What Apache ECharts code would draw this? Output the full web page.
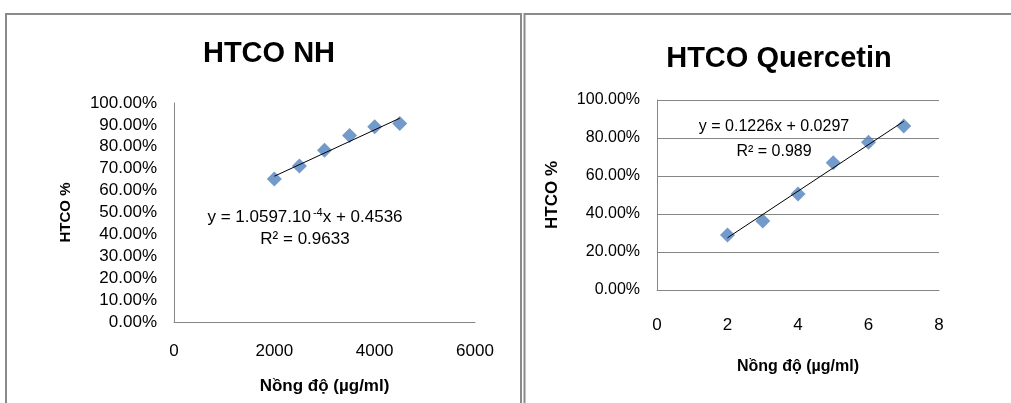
<!DOCTYPE html>
<html><head><meta charset="utf-8">
<script src="https://cdn.jsdelivr.net/npm/echarts@6/dist/echarts.min.js"></script>
<style>html,body{margin:0;padding:0;background:#fff}#c{width:1011px;height:403px}</style>
</head><body><div id="c"></div>
<script>
// Data
const nhX = [2000, 2500, 3000, 3500, 4000, 4500];
const nhY = [0.653, 0.712, 0.784, 0.852, 0.892, 0.906];
const nhTrend = { slope: 1.0597e-4, intercept: 0.4536, r2: '0.9633' };
const qX = [2, 3, 4, 5, 6, 7];
const qY = [0.289, 0.363, 0.505, 0.670, 0.777, 0.863];
const qTrend = { slope: 0.1226, intercept: 0.0297, r2: '0.989' };
const titles = ['HTCO NH', 'HTCO Quercetin'];
const xName = 'Nồng độ (µg/ml)';
const yName = 'HTCO %';

const FONT = 'Liberation Sans, Arial, sans-serif';
const AX = '#868686';
const MARK = '#4F81BD';
const pct = v => (v * 100).toFixed(2) + '%';
const plain = v => String(v);
const trendPts = (xs, t) => [xs[0], xs[xs.length - 1]].map(x => [x, t.slope * x + t.intercept]);

const chart = echarts.init(document.getElementById('c'), null, { renderer: 'canvas' });
chart.setOption({
  backgroundColor: '#fff',
  animation: false,
  textStyle: { fontFamily: FONT },
  title: [
    { text: titles[0], left: 264, top: 34, textAlign: 'center',
      textStyle: { fontFamily: FONT, fontSize: 29, fontWeight: 'bold', color: '#000' } },
    { text: titles[1], left: 774, top: 39, textAlign: 'center',
      textStyle: { fontFamily: FONT, fontSize: 29, fontWeight: 'bold', color: '#000' } }
  ],
  grid: [
    { left: 174, top: 103, width: 301, height: 219 },
    { left: 657, top: 100, width: 282, height: 190 }
  ],
  xAxis: [
    { gridIndex: 0, type: 'value', min: 0, max: 6000, interval: 2000,
      axisLine: { show: true, onZero: false, lineStyle: { color: AX, width: 1 } },
      axisTick: { show: false }, splitLine: { show: false },
      axisLabel: { fontSize: 17, color: '#000', margin: 21, fontFamily: FONT, formatter: plain },
      name: xName, nameLocation: 'middle', nameGap: 56,
      nameTextStyle: { fontSize: 17, fontWeight: 'bold', color: '#000', fontFamily: FONT } },
    { gridIndex: 1, type: 'value', min: 0, max: 8, interval: 2,
      axisLine: { show: true, onZero: false, lineStyle: { color: AX, width: 1 } },
      axisTick: { show: false }, splitLine: { show: false },
      axisLabel: { fontSize: 17, color: '#000', margin: 27, fontFamily: FONT, formatter: plain },
      name: xName, nameLocation: 'middle', nameGap: 69,
      nameTextStyle: { fontSize: 16, fontWeight: 'bold', color: '#000', fontFamily: FONT } }
  ],
  yAxis: [
    { gridIndex: 0, type: 'value', min: 0, max: 1, interval: 0.1,
      axisLine: { show: true, onZero: false, lineStyle: { color: AX, width: 1 } },
      axisTick: { show: false }, splitLine: { show: false },
      axisLabel: { fontSize: 17, color: '#000', margin: 17, formatter: pct, fontFamily: FONT },
      name: yName, nameLocation: 'middle', nameGap: 101, nameRotate: 90,
      nameTextStyle: { fontSize: 15, fontWeight: 'bold', color: '#000', fontFamily: FONT } },
    { gridIndex: 1, type: 'value', min: 0, max: 1, interval: 0.2,
      axisLine: { show: true, onZero: false, lineStyle: { color: AX, width: 1 } },
      axisTick: { show: false },
      splitLine: { show: true, lineStyle: { color: AX, width: 1 } },
      axisLabel: { fontSize: 16, color: '#000', margin: 17, formatter: pct, fontFamily: FONT },
      name: yName, nameLocation: 'middle', nameGap: 96, nameRotate: 90,
      nameTextStyle: { fontSize: 17, fontWeight: 'bold', color: '#000', fontFamily: FONT } }
  ],
  series: [
    { type: 'scatter', xAxisIndex: 0, yAxisIndex: 0, symbol: 'diamond', symbolSize: [15, 15],
      itemStyle: { color: MARK }, data: nhX.map((x, i) => [x, nhY[i]]), z: 2 },
    { type: 'line', xAxisIndex: 0, yAxisIndex: 0, symbol: 'none', silent: true,
      lineStyle: { color: '#000', width: 1 }, data: trendPts(nhX, nhTrend), z: 3 },
    { type: 'scatter', xAxisIndex: 1, yAxisIndex: 1, symbol: 'diamond', symbolSize: [15, 15],
      itemStyle: { color: MARK }, data: qX.map((x, i) => [x, qY[i]]), z: 2 },
    { type: 'line', xAxisIndex: 1, yAxisIndex: 1, symbol: 'none', silent: true,
      lineStyle: { color: '#000', width: 1 }, data: trendPts(qX, qTrend), z: 3 }
  ],
  graphic: [
    // panel frames
    { type: 'polyline', shape: { points: [[6, 403], [6, 14], [521, 14], [521, 403]] },
      style: { stroke: '#8a8a8a', lineWidth: 2, fill: null }, silent: true },
    { type: 'polyline', shape: { points: [[524.5, 403], [524.5, 14], [1011, 14]] },
      style: { stroke: '#8a8a8a', lineWidth: 2, fill: null }, silent: true },
    // equations
    { type: 'text', x: 305, y: 217, style: {
        text: 'y = 1.0597.10{sup|-4}x + 0.4536', font: '17px ' + FONT, fill: '#000',
        align: 'center', verticalAlign: 'middle',
        rich: { sup: { fontSize: 11, fontFamily: FONT, padding: [0, 0, 9, 2], fill: '#000' } } }, z: 10 },
    { type: 'text', x: 305, y: 239, style: {
        text: 'R² = ' + nhTrend.r2, font: '17px ' + FONT, fill: '#000',
        align: 'center', verticalAlign: 'middle' }, z: 10 },
    { type: 'text', x: 774, y: 127, style: {
        text: 'y = ' + qTrend.slope + 'x + 0.0297', font: '16px ' + FONT, fill: '#000',
        align: 'center', verticalAlign: 'middle' }, z: 10 },
    { type: 'text', x: 774, y: 152, style: {
        text: 'R² = ' + qTrend.r2, font: '16px ' + FONT, fill: '#000',
        align: 'center', verticalAlign: 'middle' }, z: 10 }
  ]
});
</script></body></html>
